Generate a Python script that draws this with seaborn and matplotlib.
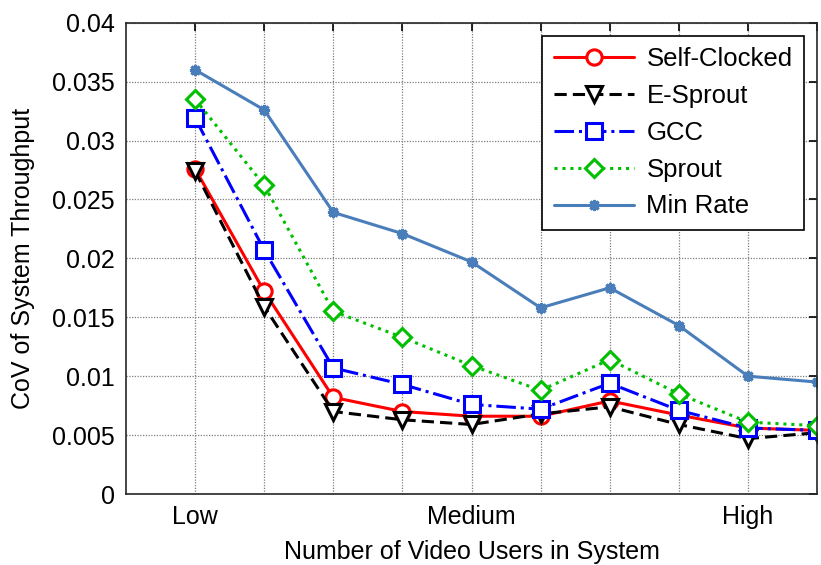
import matplotlib
matplotlib.use("Agg")
import matplotlib.pyplot as plt
import seaborn as sns
import numpy as np

# ---- data ----
x_pos = [1, 2, 3, 4, 5, 6, 7, 8, 9, 10]
x_labels = ["Low", "", "", "", "Medium", "", "", "", "High", ""]
self_clocked = [0.0276, 0.0172, 0.0082, 0.0070, 0.0066, 0.0066, 0.0079, 0.0067, 0.0056, 0.0054]
e_sprout = [0.0274, 0.0159, 0.0070, 0.0063, 0.0059, 0.0068, 0.0074, 0.0059, 0.0047, 0.0052]
gcc = [0.0319, 0.0207, 0.0107, 0.0093, 0.0076, 0.0072, 0.0094, 0.0071, 0.0056, 0.0054]
sprout = [0.0335, 0.0262, 0.0155, 0.0133, 0.0109, 0.0088, 0.0114, 0.0085, 0.0061, 0.0058]
min_rate = [0.0360, 0.0326, 0.0239, 0.0221, 0.0197, 0.0158, 0.0175, 0.0143, 0.0100, 0.0095]
y_ticks = [0, 0.005, 0.01, 0.015, 0.02, 0.025, 0.03, 0.035, 0.04]
y_tick_labels = ["0", "0.005", "0.01", "0.015", "0.02", "0.025", "0.03", "0.035", "0.04"]

sns.set_theme(style="white")
plt.rcParams["font.family"] = ["Liberation Sans", "DejaVu Sans"]
plt.rcParams["text.color"] = "black"
plt.rcParams["axes.labelcolor"] = "black"

fig = plt.figure(figsize=(8.21, 5.65), dpi=100)
ax = fig.add_axes([126 / 821, 1 - 494 / 565, (817 - 126) / 821, (494 - 22.7) / 565])

series = [
    ("Self-Clocked", self_clocked, dict(color="#FF0000", linestyle="-", marker="o", markersize=11)),
    ("E-Sprout", e_sprout, dict(color="#000000", linestyle=(0, (4, 2)), marker="v", markersize=12)),
    ("GCC", gcc, dict(color="#0000FF", linestyle="-.", marker="s", markersize=11)),
    ("Sprout", sprout, dict(color="#00C000", linestyle=(0, (1, 1.6)), marker="D", markersize=9.5)),
    ("Min Rate", min_rate, dict(color="#4A7EBB", linestyle="-", marker=(8, 2, 0), markersize=8)),
]
for name, vals, st in series:
    sns.lineplot(x=x_pos, y=vals, ax=ax, label=name, linewidth=2.2,
                 markerfacecolor="white", markeredgecolor=st["color"],
                 markeredgewidth=2.2, **st)

ax.set_xlim(0, 10)
ax.set_ylim(0, 0.04)
ax.set_xticks(x_pos)
ax.set_xticklabels(x_labels)
ax.set_yticks(y_ticks)
ax.set_yticklabels(y_tick_labels)
ax.tick_params(direction="in", length=6, width=1.2, top=True, right=True,
               labelsize=18, colors="black", pad=8)
ax.grid(True, color="#7f7f7f", linestyle=(0, (1, 1.2)), linewidth=0.9)
for s in ax.spines.values():
    s.set_color("#262626")
    s.set_linewidth(1.2)
ax.set_xlabel("Number of Video Users in System", fontsize=18, labelpad=8)
ax.set_ylabel("CoV of System Throughput", fontsize=18, labelpad=12)

leg = ax.legend(loc="upper right", bbox_to_anchor=(1.0, 1.0), fontsize=18.5,
                frameon=True, fancybox=False, framealpha=1, edgecolor="black",
                handlelength=3.1, labelspacing=0.5, borderpad=0.45, handletextpad=0.5)
leg.get_frame().set_linewidth(1.2)

fig.savefig("out.png", dpi=100)
